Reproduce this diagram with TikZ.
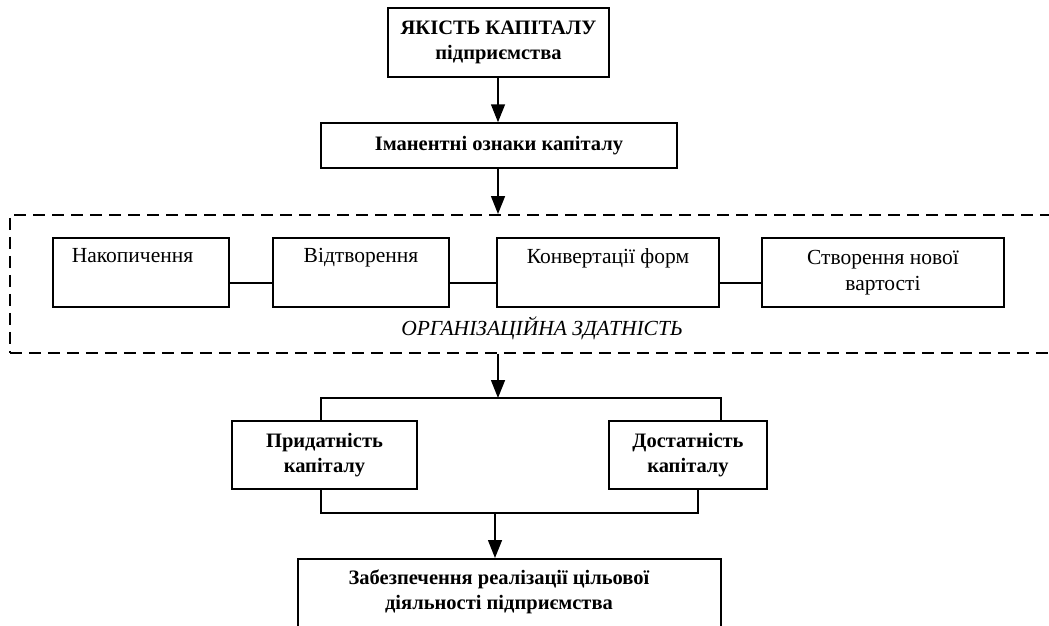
\documentclass[tikz,border=0pt]{standalone}
\usepackage{fontspec}
\setmainfont{Liberation Serif}
\usetikzlibrary{arrows.meta}
\begin{document}
\begin{tikzpicture}[x=1pt,y=-1pt,
  every node/.style={font=\fontsize{21.5}{26}\selectfont},
  box/.style={draw,line width=1.5pt,rectangle,inner sep=0pt,align=center},
  bbox/.style={box,font=\fontsize{20.5}{25}\selectfont\bfseries},
  conn/.style={line width=1.5pt},
  arr/.style={line width=1.5pt,-{Triangle[length=18pt,width=14pt]}},
  dashbox/.style={draw,line width=1.5pt,dash pattern=on 12pt off 7pt}]
\clip (0,0) rectangle (1049,626);
% top
\node[bbox,minimum width=221,minimum height=69] (top) at (498.5,42.5) {ЯКІСТЬ КАПІТАЛУ\\підприємства};
\node[bbox,minimum width=356,minimum height=45] (imm) at (499,145.5) {Іманентні ознаки капіталу};
\draw[arr] (top.south -| 498,0) -- (imm.north -| 498,0);
% dashed region
\node[dashbox,minimum width=1060,minimum height=138,anchor=north west,inner sep=0pt] (org) at (9,214) {};
\draw[arr] (imm.south -| 498,0) -- (org.north -| 498,0);
\node[box,minimum width=176,minimum height=69] (nak) at (141,272.5) {\hbox{Накопичення\kern17pt}\\\strut};
\node[box,minimum width=176,minimum height=69] (vid) at (361,272.5) {Відтворення\\\strut};
\node[box,minimum width=222,minimum height=69] (konv) at (608,272.5) {Конвертації форм\\\strut};
\node[box,minimum width=242,minimum height=69] (stv) at (883,272.5) {Створення нової\\вартості};
\draw[conn] (nak.east |- 0,283) -- (vid.west |- 0,283);
\draw[conn] (vid.east |- 0,283) -- (konv.west |- 0,283);
\draw[conn] (konv.east |- 0,283) -- (stv.west |- 0,283);
\node (orgtxt) at (542,328) {\itshape ОРГАНІЗАЦІЙНА ЗДАТНІСТЬ};
% bracket
\coordinate (split) at (498,398);
\draw[arr] (org.south -| split) -- (split);
\node[bbox,minimum width=185,minimum height=68] (prid) at (324.5,455) {Придатність\\капіталу};
\node[bbox,minimum width=158,minimum height=68] (dost) at (688,455) {Достатність\\капіталу};
\draw[conn] (prid.north -| 321,0) -- (321,398) -- (721,398) -- (dost.north -| 721,0);
\coordinate (join) at (495,513);
\draw[conn] (prid.south -| 321,0) -- (321,513) -- (698,513) -- (dost.south -| 698,0);
% goal
\node[box,minimum width=423,minimum height=100,anchor=north] (goal) at (509.5,558) {};
\node[font=\fontsize{20.5}{25}\selectfont\bfseries,align=center] (goaltxt) at (499,591.5) {Забезпечення реалізації цільової\\діяльності підприємства};
\draw[arr] (join) -- (goal.north -| join);
\end{tikzpicture}
\end{document}
